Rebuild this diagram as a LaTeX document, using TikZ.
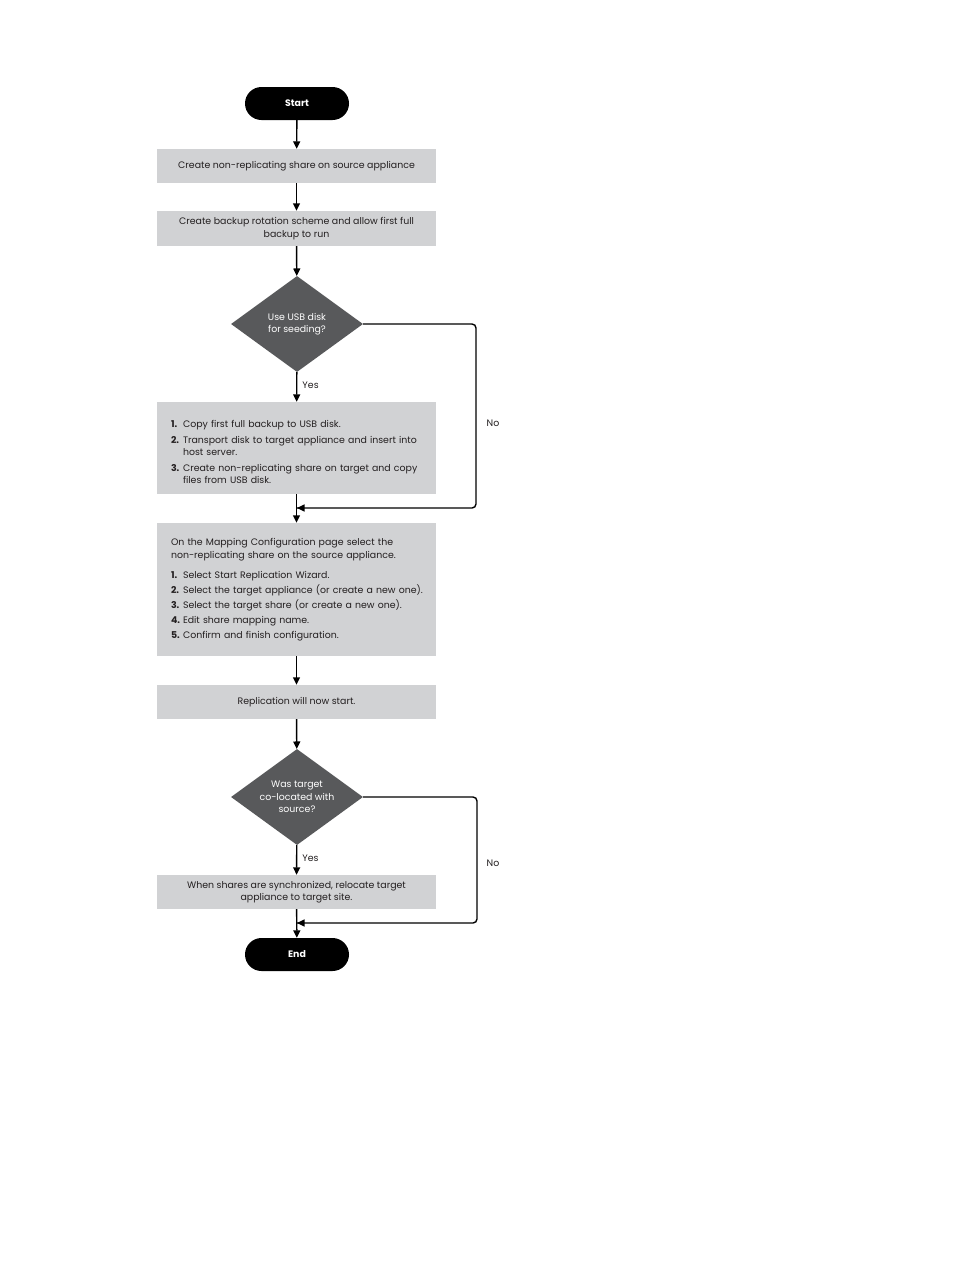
\documentclass[tikz,border=0pt]{standalone}
\usepackage{fontspec}
\setmainfont{Poppins}
\usetikzlibrary{shapes.geometric,arrows.meta}
\definecolor{boxgray}{HTML}{D1D2D4}
\definecolor{diagray}{HTML}{58595B}
\definecolor{txt}{HTML}{231F20}
\newcommand{\itm}[1]{\par\noindent\makebox[12pt][l]{\textbf{#1.}}}
\newcommand{\cont}{\newline\hspace*{12pt}}
\begin{document}
\begin{tikzpicture}[x=1pt,y=-1pt,
  font=\fontsize{9.4}{12.5}\selectfont,
  proc/.style={fill=boxgray, minimum width=279pt, text=txt, inner sep=0pt},
  listbox/.style={proc, text width=265pt, align=left},
  term/.style={fill=black, text=white, font=\fontsize{9.4}{11}\selectfont\bfseries, rounded corners=16.5pt, minimum width=104pt, minimum height=33pt, inner sep=0pt},
  dec/.style={diamond, fill=diagray, text=white, aspect=1.375, inner sep=0pt, minimum width=132pt, minimum height=96pt, align=center},
  arr/.style={line width=1.4pt, -{Triangle[length=7.5pt,width=7pt]}},
  lbl/.style={text=txt, inner sep=0pt}]
\useasboundingbox (0,0) rectangle (954,1270);
\node[term] (start) at (297,103.5) {Start};
\node[proc, minimum height=34pt] (b1) at (296.5,166) {Create non-replicating share on source appliance};
\node[proc, minimum height=35pt, align=center] (b2) at (296.5,228.5) {Create backup rotation scheme and allow first full\\backup to run};
\node[dec] (d1) at (297,324) {Use USB disk\\for seeding?};
\node[listbox, minimum height=92pt] (b3) at (296.5,448) {\setlength{\leftskip}{7pt}\setlength{\parskip}{3pt}\itm{1}Copy first full backup to USB disk.\itm{2}Transport disk to target appliance and insert into\cont host server.\itm{3}Create non-replicating share on target and copy\cont files from USB disk.\par};
\node[listbox, minimum height=133pt] (b4) at (296.5,589.5) {\setlength{\leftskip}{7pt}\setlength{\parskip}{2.5pt}On the Mapping Configuration page select the\newline non-replicating share on the source appliance.\par\vspace{5pt}\itm{1}Select Start Replication Wizard.\itm{2}Select the target appliance (or create a new one).\itm{3}Select the target share (or create a new one).\itm{4}Edit share mapping name.\itm{5}Confirm and finish configuration.\par};
\node[proc, minimum height=34pt] (b5) at (296.5,702) {Replication will now start.};
\node[dec] (d2) at (297,797) {Was target\\co-located with\\source?};
\node[proc, minimum height=34pt, align=center] (b6) at (296.5,892) {When shares are synchronized, relocate target\\appliance to target site.};
\node[term] (end) at (297,954.5) {End};
\coordinate (j1) at (297,508);
\coordinate (j2) at (297,923);
\coordinate (c1a) at (476,324);
\coordinate (c1b) at (476,508);
\coordinate (c2a) at (477,797);
\coordinate (c2b) at (477,923);
\draw[arr] (start) -- (b1);
\draw[arr] (b1) -- (b2);
\draw[arr] (b2) -- (d1);
\draw[arr] (d1) -- node[lbl, right=5pt, pos=0.45]{Yes} (b3);
\draw[arr] (b3) -- (b4);
\draw[line width=1.4pt, rounded corners=4pt] (d1.east) -- (c1a) -- (c1b) -- (j1);
\draw[arr] ([xshift=2pt]j1) -- (j1);
\node[lbl] (no1) at (493,423) {No};
\draw[arr] (b4) -- (b5);
\draw[arr] (b5) -- (d2);
\draw[arr] (d2) -- node[lbl, right=5pt, pos=0.45]{Yes} (b6);
\draw[arr] (b6) -- (end);
\draw[line width=1.4pt, rounded corners=4pt] (d2.east) -- (c2a) -- (c2b) -- (j2);
\draw[arr] ([xshift=2pt]j2) -- (j2);
\node[lbl] (no2) at (493,863) {No};
\end{tikzpicture}
\end{document}
